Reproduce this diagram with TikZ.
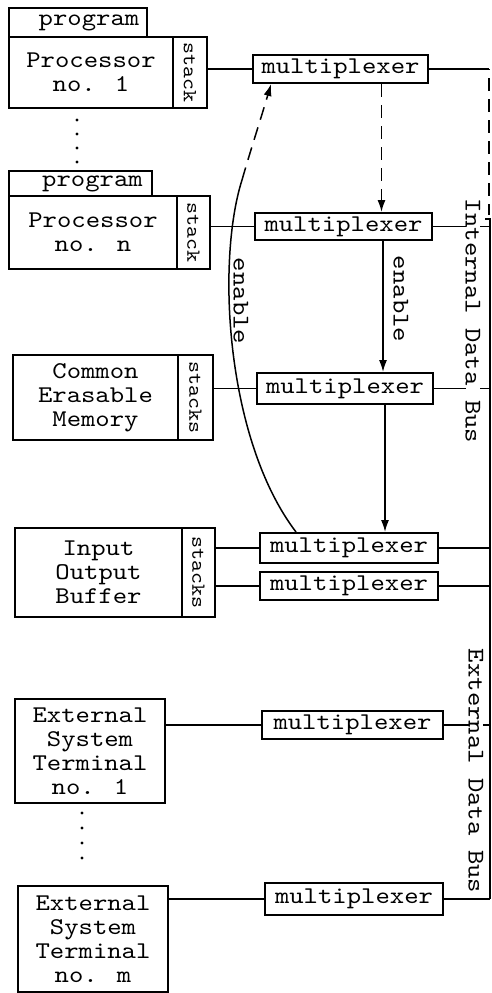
\documentclass[tikz,border=0pt]{standalone}
\usepackage{fontspec}
\newfontfamily\mono{lmmono10-regular.otf}[FakeStretch=1.14]
\usetikzlibrary{arrows.meta,calc}
\begin{document}
\begin{tikzpicture}[x=1pt,y=-1pt,
  box/.style={draw,line width=2pt,inner sep=0pt,font=\mono\fontsize{24}{24}\selectfont,align=center},
  stk/.style={draw,line width=2pt,inner sep=0pt,minimum width=34pt},
  stktext/.style={font=\mono\fontsize{20}{20}\selectfont,rotate=-90,inner sep=0pt},
  mux/.style={draw,line width=2pt,inner sep=0pt,minimum width=178pt,minimum height=29pt,font=\mono\fontsize{24}{24}\selectfont},
  conn/.style={line width=1.5pt},
  arr/.style={line width=1.5pt,-{Latex[length=12pt,width=8pt]}},
  dsh/.style={dash pattern=on 13pt off 8pt},
  lbl/.style={font=\mono\fontsize{24}{24}\selectfont,rotate=-90,inner sep=0pt},
  dot/.style={circle,fill,inner sep=0pt,minimum size=3.2pt}
]
\useasboundingbox (0,0) rectangle (492,993);

% processor 1
\node[box,minimum width=138pt,minimum height=29pt,label={[font=\mono\fontsize{24}{24}\selectfont,xshift=11pt]center:program}] (prog1) at (78,22.5) {};
\node[box,minimum width=164pt,minimum height=71pt] (proc1) at (91,72.5) {Processor\\no. 1};
\node[stk,minimum height=71pt] (stack1) at (190,72.5) {};
\node[stktext] at (stack1.center) {stack};

% dots
\node[dot] (d1) at (77,120) {};
\node[dot] (d2) at (77,134) {};
\node[dot] (d3) at (77,148) {};
\node[dot] (d4) at (77,162) {};

% processor n
\node[box,minimum width=143pt,minimum height=25pt,label={[font=\mono\fontsize{24}{24}\selectfont,xshift=12pt]center:program}] (progn) at (80.5,183.5) {};
\node[box,minimum width=168pt,minimum height=73pt] (procn) at (93,232.5) {Processor\\no. n};
\node[stk,minimum height=73pt,minimum width=33pt] (stackn) at (193.5,232.5) {};
\node[stktext] at (stackn.center) {stack};

% common erasable memory
\node[box,minimum width=165pt,minimum height=85pt] (cem) at (95.5,397.5) {Common\\Erasable\\Memory};
\node[stk,minimum height=85pt,minimum width=35pt] (cemstack) at (195.5,397.5) {};
\node[stktext] at (cemstack.center) {stacks};

% input output buffer
\node[box,minimum width=167pt,minimum height=89pt] (iob) at (98.5,572.5) {Input\\Output\\Buffer};
\node[stk,minimum height=89pt,minimum width=33pt] (iobstack) at (198.5,572.5) {};
\node[stktext] at (iobstack.center) {stacks};

% external system terminals
\node[box,minimum width=150pt,minimum height=104pt] (est1) at (90,751) {External\\System\\Terminal\\no. 1};
\node[dot] (e1) at (82,813) {};
\node[dot] (e2) at (82,828) {};
\node[dot] (e3) at (82,843) {};
\node[dot] (e4) at (82,858) {};
\node[box,minimum width=150pt,minimum height=106pt] (estm) at (93,939) {External\\System\\Terminal\\no. m};

% multiplexers
\node[mux,minimum width=175pt,minimum height=28pt] (mux1) at (340.5,69) {multiplexer};
\node[mux,minimum width=177pt,minimum height=27pt] (mux2) at (343.5,226.5) {multiplexer};
\node[mux,minimum width=176pt,minimum height=31pt] (mux3) at (345,388.5) {multiplexer};
\node[mux,minimum height=30pt] (mux4) at (349,548) {multiplexer};
\node[mux,minimum height=28pt] (mux5) at (349,586) {multiplexer};
\node[mux,minimum width=181pt,minimum height=28pt] (mux6) at (352.5,725) {multiplexer};
\node[mux,minimum height=32pt] (mux7) at (354,899) {multiplexer};

% connections left side
\draw[conn] (stack1.east |- mux1.west) -- (mux1.west);
\draw[conn] (stackn.east |- mux2.west) -- (mux2.west);
\draw[conn] (cemstack.east |- mux3.west) -- (mux3.west);
\draw[conn] (iobstack.east |- mux4.west) -- (mux4.west);
\draw[conn] (iobstack.east |- mux5.west) -- (mux5.west);
\draw[conn] (est1.east |- mux6.west) -- (mux6.west);
\draw[conn] (estm.east |- mux7.west) -- (mux7.west);

% bus coordinates
\coordinate (b1) at (489,69);
\coordinate (bdashend) at (489,215);
\coordinate (btop) at (490,219);
\coordinate (btick) at (485,219);
\coordinate (bbot) at (490,899);

% stubs to bus
\draw[conn] (mux1.east) -- (b1);
\draw[conn] (mux2.east) -- (mux2.east -| btop);
\draw[conn] (mux3.east) -- (mux3.east -| btop);
\draw[conn] (mux4.east) -- (mux4.east -| btop);
\draw[conn] (mux5.east) -- (mux5.east -| btop);
\draw[conn] (mux6.east) -- (mux6.east -| btop);
\draw[conn] (mux7.east) -- (mux7.east -| btop);

% bus labels
\node[lbl,fill=white] (ibus) at (473,321) {Internal Data Bus};
\node[lbl,fill=white] (ebus) at (476,771) {External Data Bus};

% buses
\draw[conn,dsh,dash phase=-9pt] (b1) -- (bdashend);
\draw[conn] (btick) -- (btop) -- (bbot);

% enable arrows
\draw[arr,dsh] ([xshift=41pt]mux1.south) -- ([xshift=41pt]mux1.south |- mux2.north);
\draw[arr] ([xshift=39.5pt]mux2.south) -- ([xshift=39.5pt]mux2.south |- mux3.north);
\draw[arr] ([xshift=40pt]mux3.south) -- ([xshift=40pt]mux3.south |- mux4.north);
\node[lbl] (en1) at (401,299) {enable};

% curved enable
\coordinate (cv) at (242,180);
\draw[conn] ([xshift=37pt]mux4.north west) .. controls (226,440) and (216,262) .. (cv);
\draw[arr,dsh] (cv) .. controls (250,152) and (262,115) .. ([xshift=19pt]mux1.south west);
\node[lbl] (en2) at (241,301) {enable};

\end{tikzpicture}
\end{document}
